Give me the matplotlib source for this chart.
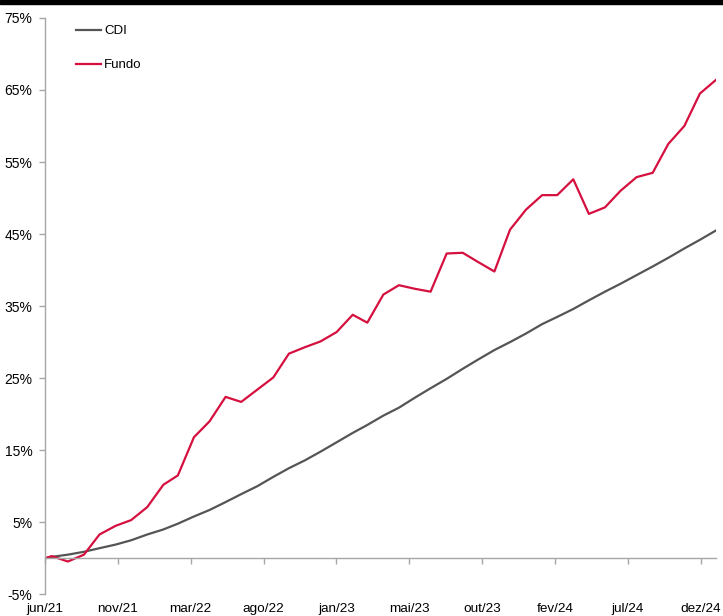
import numpy as np
import pandas as pd
import matplotlib
matplotlib.use("Agg")
import matplotlib.pyplot as plt
import matplotlib.dates as mdates
from matplotlib.patches import Rectangle

plt.rcParams['font.family'] = ['Liberation Sans', 'DejaVu Sans']

# dates: fund start then month ends jun/21 .. dez/24
dates = [pd.Timestamp("2021-06-17")] + list(pd.date_range("2021-06-30", "2024-12-31", freq="ME"))

cdi = [0.0, 0.2, 0.5, 0.9, 1.4, 1.9, 2.5, 3.3, 4.0, 4.8, 5.8, 6.7, 7.8, 8.9, 10.0,
       11.3, 12.5, 13.6, 14.8, 16.1, 17.4, 18.5, 19.8, 20.9, 22.3, 23.6, 24.9, 26.3,
       27.6, 28.9, 30.0, 31.2, 32.5, 33.5, 34.6, 35.8, 37.0, 38.1, 39.3, 40.5, 41.7,
       43.0, 44.2, 45.5]

fundo = [0.0, 0.3, -0.45, 0.5, 3.3, 4.5, 5.3, 7.1, 10.2, 11.5, 16.8, 19.0, 22.4, 21.7,
         23.4, 25.1, 28.4, 29.3, 30.1, 31.4, 33.8, 32.7, 36.6, 37.9, 37.4, 37.0, 42.3,
         42.4, 41.1, 39.8, 45.6, 48.4, 50.4, 50.4, 52.6, 47.8, 48.7, 51.0, 52.9, 53.5,
         57.5, 60.0, 64.5, 66.4]

tick_labels = ["jun/21", "nov/21", "mar/22", "ago/22", "jan/23",
               "mai/23", "out/23", "fev/24", "jul/24", "dez/24"]
yticks = [-5, 5, 15, 25, 35, 45, 55, 65, 75]

fig = plt.figure(figsize=(7.23, 6.16), dpi=100)
ax = fig.add_axes([45/723, 1 - 594.3/616, (716 - 45)/723, (594.3 - 17.9)/616])

ax.plot(dates, cdi, color="#555555", lw=1.6, label="CDI")
ax.plot(dates, fundo, color="#d5103f", lw=1.6, label="Fundo")

x0 = mdates.date2num(dates[0])
x1 = mdates.date2num(dates[-1])
ax.set_xlim(x0, x1)
ax.set_ylim(-5, 75)

step = 0.977 * (x1 - x0) / 9
ax.set_xticks([x0 + k * step for k in range(10)])
ax.set_xticklabels(tick_labels)
ax.set_yticks(yticks)
ax.set_yticklabels(["%d%%" % v for v in yticks])

for s in ["top", "right"]:
    ax.spines[s].set_visible(False)
ax.spines["bottom"].set_position(("data", 0))
for s in ["left", "bottom"]:
    ax.spines[s].set_color("#a6a6a6")
    ax.spines[s].set_linewidth(1.0)

ax.tick_params(axis="x", direction="out", length=4, width=1, color="#a6a6a6",
               pad=28, labelsize=9.7)
ax.tick_params(axis="y", direction="out", length=4, width=1, color="#a6a6a6",
               pad=5, labelsize=10)

ax.legend(loc="upper left", bbox_to_anchor=(0.029, 1.008), frameon=False,
          handlelength=1.9, handletextpad=0.2, labelspacing=1.65, fontsize=9.5)

fig.patches.append(Rectangle((0, 1 - 4/616), 1, 4/616, transform=fig.transFigure,
                             color="black", zorder=10))

fig.savefig("out.png", dpi=100)
